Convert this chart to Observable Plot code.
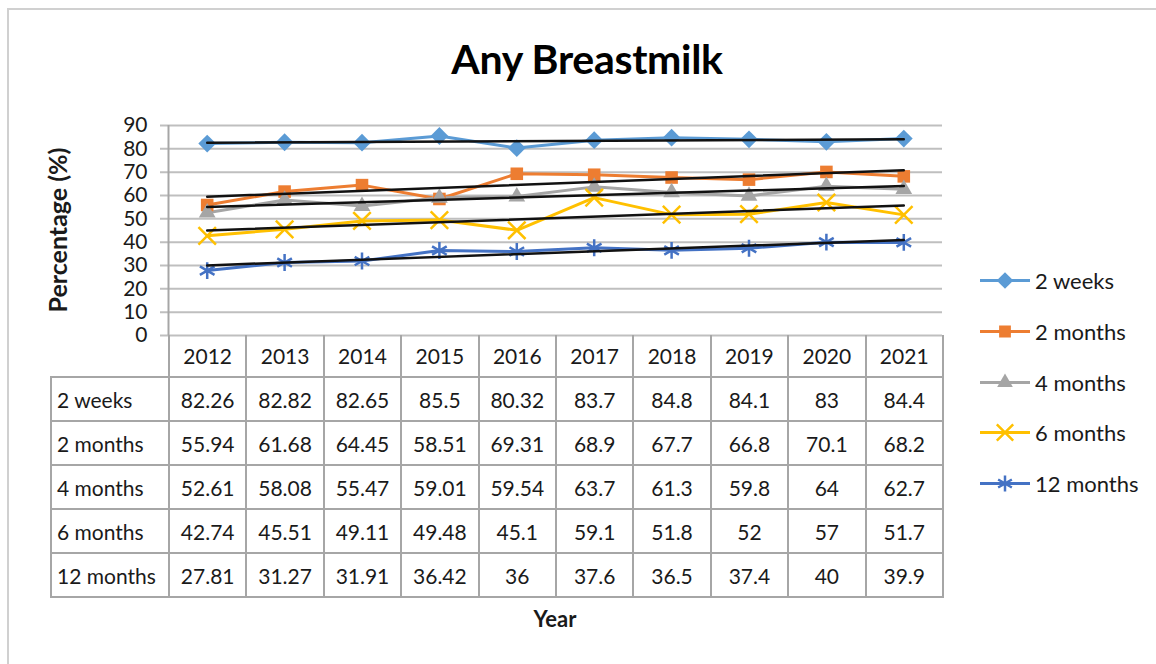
<!DOCTYPE html>
<html>
<head>
<meta charset="utf-8">
<script src="https://cdn.jsdelivr.net/npm/d3@7"></script>
<script src="https://cdn.jsdelivr.net/npm/@observablehq/plot@0.6"></script>
<style>
  html, body { margin: 0; padding: 0; background: #fff; }
  #root { position: relative; width: 1156px; height: 664px; overflow: hidden; font-family: Lato, "Open Sans", sans-serif; color: #1a1a1a; }
  #frame { position: absolute; left: 7px; top: 8px; width: 1200px; height: 700px; border: 2px solid #d0d0d0; box-sizing: border-box; }
  #title { position: absolute; left: 0; width: 1174px; top: 34px; text-align: center; font-weight: bold; font-size: 41px; letter-spacing: -0.3px; color: #000; }
  #ytitle { position: absolute; left: 57px; top: 230px; transform: translate(-50%, -50%) rotate(-90deg); font-weight: bold; font-size: 25px; white-space: nowrap; }
  #plot { position: absolute; left: 0; top: 100px; }
  #tbl { position: absolute; left: 50px; top: 335px; border-collapse: collapse; table-layout: fixed; font-size: 21px; }
  #tbl td { border: 2px solid #a6a6a6; text-align: center; padding: 0; height: 42px; box-sizing: border-box; }
  #tbl td.lab { text-align: left; padding-left: 5px; }
  #tbl tr.head td.corner { border: none; border-bottom: 2px solid #a6a6a6; }
  #tbl tr.head td { border-top: none; }
  #xtitle { position: absolute; left: 555px; top: 605px; transform: translateX(-50%); font-weight: bold; font-size: 22px; }
  #legend { position: absolute; left: 980px; top: 0; }
  .li { position: absolute; left: 0; display: flex; align-items: center; font-size: 22px; white-space: nowrap; transform: translateY(-50%); }
  .li svg { display: block; margin-right: 3px; }
</style>
</head>
<body>
<div id="root">
  <div id="frame"></div>
  <div id="title">Any Breastmilk</div>
  <div id="ytitle">Percentage (%)</div>
  <div id="plot"></div>
  <table id="tbl"></table>
  <div id="xtitle">Year</div>
  <div id="legend"></div>
</div>
<script>
// ---- data ----
const years = [2012, 2013, 2014, 2015, 2016, 2017, 2018, 2019, 2020, 2021];
const seriesNames = ["2 weeks", "2 months", "4 months", "6 months", "12 months"];
const weeks2   = [82.26, 82.82, 82.65, 85.5, 80.32, 83.7, 84.8, 84.1, 83, 84.4];
const months2  = [55.94, 61.68, 64.45, 58.51, 69.31, 68.9, 67.7, 66.8, 70.1, 68.2];
const months4  = [52.61, 58.08, 55.47, 59.01, 59.54, 63.7, 61.3, 59.8, 64, 62.7];
const months6  = [42.74, 45.51, 49.11, 49.48, 45.1, 59.1, 51.8, 52, 57, 51.7];
const months12 = [27.81, 31.27, 31.91, 36.42, 36, 37.6, 36.5, 37.4, 40, 39.9];
const yTicks = [0, 10, 20, 30, 40, 50, 60, 70, 80, 90];
const seriesColors = ["#5B9BD5", "#ED7D31", "#A5A5A5", "#FFC000", "#4472C4"];
const seriesSymbols = ["diamond2", "square2", "triangle2", "times", "asterisk"];

const allValues = [weeks2, months2, months4, months6, months12];
const rows = [];
seriesNames.forEach((s, i) => years.forEach((yr, j) => rows.push({series: s, year: yr, value: allValues[i][j]})));

const colorScale = {domain: seriesNames, range: seriesColors};
const filled = rows.filter(d => d.series === "2 weeks" || d.series === "2 months" || d.series === "4 months");
const stroked = rows.filter(d => d.series === "6 months" || d.series === "12 months");

const chart = Plot.plot({
  width: 960, height: 260,
  marginLeft: 168, marginRight: 18, marginTop: 25, marginBottom: 25,
  style: {fontFamily: "Lato, 'Open Sans', sans-serif", fontSize: "21px", color: "#1a1a1a", background: "transparent", overflow: "visible"},
  x: {type: "linear", domain: [2011.5, 2021.5], axis: null},
  y: {domain: [0, 90], axis: null},
  color: colorScale,
  symbol: {domain: seriesNames, range: seriesSymbols},
  marks: [
    Plot.ruleY(yTicks, {stroke: "#bfbfbf", strokeWidth: 2, insetLeft: -8}),
    Plot.ruleX([2011.5], {y1: 0, y2: 90, stroke: "#a6a6a6", strokeWidth: 2}),
    Plot.text(yTicks, {x: 2011.5, y: d => d, text: d => String(d), textAnchor: "end", dx: -21, fontSize: 21, fill: "#1a1a1a"}),
    Plot.line(rows, {x: "year", y: "value", z: "series", stroke: "series", strokeWidth: 3}),
    Plot.dot(filled, {x: "year", y: "value", symbol: "series", fill: "series", r: 8}),
    Plot.dot(stroked, {x: "year", y: "value", symbol: "series", stroke: "series", strokeWidth: 2.5, r: 8}),
    Plot.linearRegressionY(rows, {x: "year", y: "value", z: "series", stroke: "#111", strokeWidth: 2.5, ci: 0})
  ]
});
document.getElementById("plot").appendChild(chart);

// ---- data table ----
const tbl = d3.select("#tbl");
const cg = tbl.append("colgroup");
cg.append("col").style("width", "118px");
years.forEach(() => cg.append("col").style("width", "77.4px"));
const head = tbl.append("tr").attr("class", "head");
head.append("td").attr("class", "corner");
years.forEach(y => head.append("td").text(String(y)));
seriesNames.forEach((s, i) => {
  const tr = tbl.append("tr");
  tr.append("td").attr("class", "lab").text(s);
  allValues[i].forEach(v => tr.append("td").text(String(v)));
});
tbl.selectAll("tr").filter((d, i) => i > 0).selectAll("td").style("height", "44px");

// ---- legend ----
const legendY = [280, 331, 382, 432, 483];
const leg = d3.select("#legend");
const symMap = {diamond2: d3.symbolDiamond2, square2: d3.symbolSquare2, triangle2: d3.symbolTriangle2, times: d3.symbolTimes, asterisk: d3.symbolAsterisk};
seriesNames.forEach((s, i) => {
  const item = leg.append("div").attr("class", "li").style("top", legendY[i] + "px");
  const svg = item.append("svg").attr("width", 52).attr("height", 22);
  svg.append("line").attr("x1", 0).attr("x2", 50).attr("y1", 11).attr("y2", 11)
    .attr("stroke", seriesColors[i]).attr("stroke-width", 3);
  const path = d3.symbol(symMap[seriesSymbols[i]], 7.5 * 7.5 * Math.PI)();
  const p = svg.append("path").attr("d", path).attr("transform", "translate(25,11)");
  if (i < 3) p.attr("fill", seriesColors[i]); else p.attr("fill", "none").attr("stroke", seriesColors[i]).attr("stroke-width", 2.5);
  item.append("span").text(s);
});
</script>
</body>
</html>
